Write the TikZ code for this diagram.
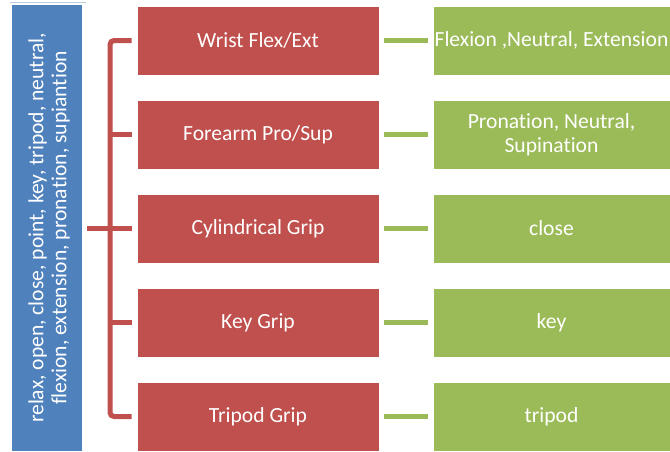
\documentclass[tikz,border=0pt]{standalone}
\usepackage{fontspec}
\setmainfont{Carlito}[Ligatures={NoCommon}]
\definecolor{oblue}{HTML}{4F81BD}
\definecolor{ored}{HTML}{C0504D}
\definecolor{ogreen}{HTML}{9BBB59}
\definecolor{lblue}{HTML}{B9CDE5}
\tikzset{
  redbox/.style={fill=ored, draw=white, line width=0.6pt, minimum width=242pt, minimum height=69pt, text=white, align=center, font=\fontsize{21.6}{24}\selectfont, inner sep=0pt},
  greenbox/.style={fill=ogreen, draw=white, line width=0.6pt, minimum width=237pt, minimum height=69pt, text=white, align=center, font=\fontsize{21.6}{24}\selectfont, inner sep=0pt},
  bluebox/.style={fill=oblue, draw=none, minimum width=70pt, minimum height=446pt, inner sep=0pt},
  rline/.style={draw=ored, line width=5pt},
  gline/.style={draw=ogreen, line width=5pt, shorten <=5pt, shorten >=5pt},
}
\begin{document}
\begin{tikzpicture}[x=1pt,y=-1pt]
\useasboundingbox (0,0) rectangle (670,451);
\fill[white] (0,0) rectangle (670,451);
\draw[lblue, line width=1pt] (10,2) -- (86,2);
\node[bluebox] (blue) at (47,228) {};
\node[rotate=90, text=white, align=center, font=\fontsize{21.6}{23}\selectfont] (bt) at (49,228) {relax, open, close, point, key, tripod, neutral,\\flexion, extension, pronation, supiantion};
\node[redbox] (r1) at (258,40.5) {Wrist Flex/Ext};
\node[redbox] (r2) at (258,134.5) {Forearm Pro/Sup};
\node[redbox] (r3) at (258,228.5) {Cylindrical Grip};
\node[redbox] (r4) at (258,322.5) {Key Grip};
\node[redbox] (r5) at (258,416.5) {Tripod Grip};
\node[greenbox] (g1) at (551.5,40.5) {Flexion ,Neutral, Extension};
\node[greenbox] (g2) at (551.5,134.5) {Pronation, Neutral,\\Supination};
\node[greenbox] (g3) at (551.5,228.5) {close};
\node[greenbox] (g4) at (551.5,322.5) {key};
\node[greenbox] (g5) at (551.5,416.5) {tripod};
\foreach \i in {1,...,5} {\draw[gline] (r\i) -- (g\i);}
\coordinate (bj) at (110,228.5);
\draw[rline, rounded corners=4pt] ([xshift=-5pt]r1.west) -| (bj) |- ([xshift=-5pt]r5.west);
\draw[rline] ([xshift=-5pt]r2.west) -- (bj |- r2.west);
\draw[rline] ([xshift=-5pt]r4.west) -- (bj |- r4.west);
\draw[rline] ([xshift=5pt]blue.east |- r3.west) -- ([xshift=-5pt]r3.west);
\end{tikzpicture}
\end{document}
